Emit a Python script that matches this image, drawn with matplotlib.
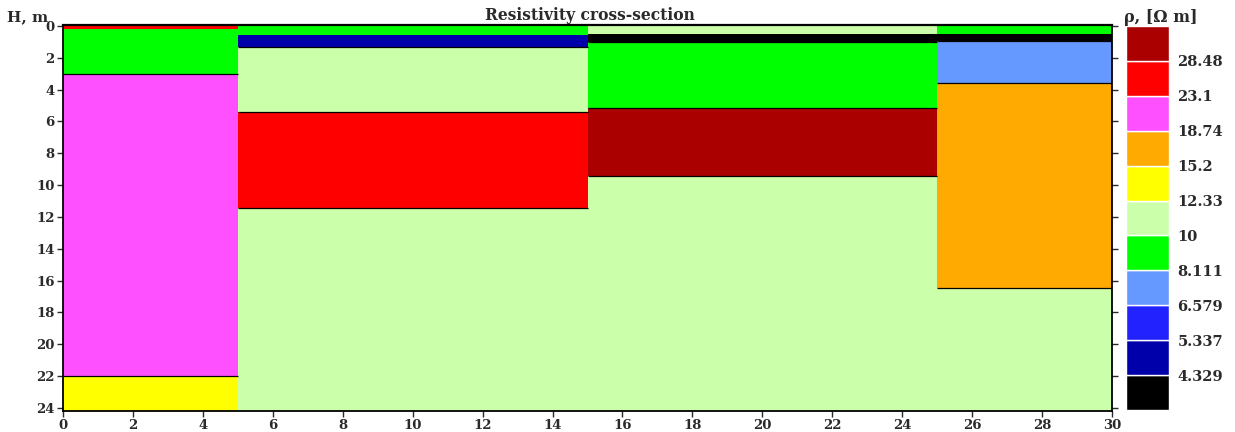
import numpy as np
import matplotlib
matplotlib.use('Agg')
from matplotlib import pyplot as plt

plt.rcParams['font.family'] = ['DejaVu Serif']
plt.rcParams['font.weight'] = 'bold'
plt.rcParams['text.color'] = '#2a2a2a'
plt.rcParams['xtick.color'] = '#2a2a2a'
plt.rcParams['ytick.color'] = '#2a2a2a'

# resistivity classes, low -> high
class_colors = ['#000000', '#0000aa', '#2222ff', '#6699ff', '#00ff00', '#ccffaa',
                '#ffff00', '#ffaa00', '#ff50ff', '#ff0000', '#aa0000']
class_bounds = ['4.329', '5.337', '6.579', '8.111', '10', '12.33',
                '15.2', '18.74', '23.1', '28.48']

# sounding columns (x from / to) and layers: bottom depth + class index
col_edges = [0, 5, 15, 25, 30]
col1_bottom = [0.22, 3.0, 22.0, 24.2]
col1_class = [9, 4, 8, 6]
col2_bottom = [0.55, 1.3, 5.4, 11.45, 24.2]
col2_class = [4, 1, 5, 9, 5]
col3_bottom = [0.5, 1.0, 5.15, 9.4, 24.2]
col3_class = [5, 0, 4, 10, 5]
col4_bottom = [0.5, 0.95, 3.6, 16.5, 24.2]
col4_class = [4, 0, 3, 7, 5]

bottoms = [col1_bottom, col2_bottom, col3_bottom, col4_bottom]
classes = [col1_class, col2_class, col3_class, col4_class]

fig = plt.figure(figsize=(12.35, 4.32), dpi=100)
ax = fig.add_axes([63 / 1235, 1 - 411 / 432, 1049 / 1235, 386 / 432])

for i in range(4):
    x0, x1 = col_edges[i], col_edges[i + 1]
    top = 0.0
    for b, c in zip(bottoms[i], classes[i]):
        ax.bar(x0, b - top, width=x1 - x0, bottom=top, align='edge',
               color=class_colors[c], edgecolor='none', linewidth=0)
        top = b
    # layer boundaries
    ax.hlines(bottoms[i][1:-1], x0, x1, colors='black', linewidth=0.9)

ax.set_xlim(0, 30)
ax.set_ylim(24.2, -0.06)
ax.set_xticks(np.arange(0, 31, 2))
ax.set_yticks(np.arange(0, 25, 2))
ax.tick_params(axis='both', direction='out', length=4, width=1, labelsize=9.5, pad=2)
ax.tick_params(axis='y', right=True)
for s in ax.spines.values():
    s.set_linewidth(1.3)
ax.spines['top'].set_linewidth(1.6)

fig.text(0.5 * (63 + 1112) / 1235 + 0.002, 1 - 16 / 432, 'Resistivity cross-section',
         ha='center', va='center', fontsize=11.2)
fig.text(7 / 1235, 1 - 17 / 432, 'H, m', ha='left', va='center', fontsize=11)

# legend bar
cax = fig.add_axes([1126 / 1235, 1 - 410 / 432, 43 / 1235, 384 / 432])
n = len(class_colors)
cax.bar(np.zeros(n), np.ones(n), width=1, bottom=np.arange(n), align='edge',
        color=class_colors, edgecolor='white', linewidth=1)
cax.set_xlim(0, 1)
cax.set_ylim(0, n)
cax.set_yticks(np.arange(1, n))
cax.set_yticklabels(class_bounds)
cax.yaxis.tick_right()
cax.tick_params(axis='y', length=0, pad=6, labelsize=10.5)
cax.set_xticks([])
for s in cax.spines.values():
    s.set_visible(False)
fig.text(1124 / 1235, 1 - 18 / 432, 'ρ, [Ω m]', ha='left', va='center', fontsize=11.5)

fig.savefig('out.png', dpi=100)
